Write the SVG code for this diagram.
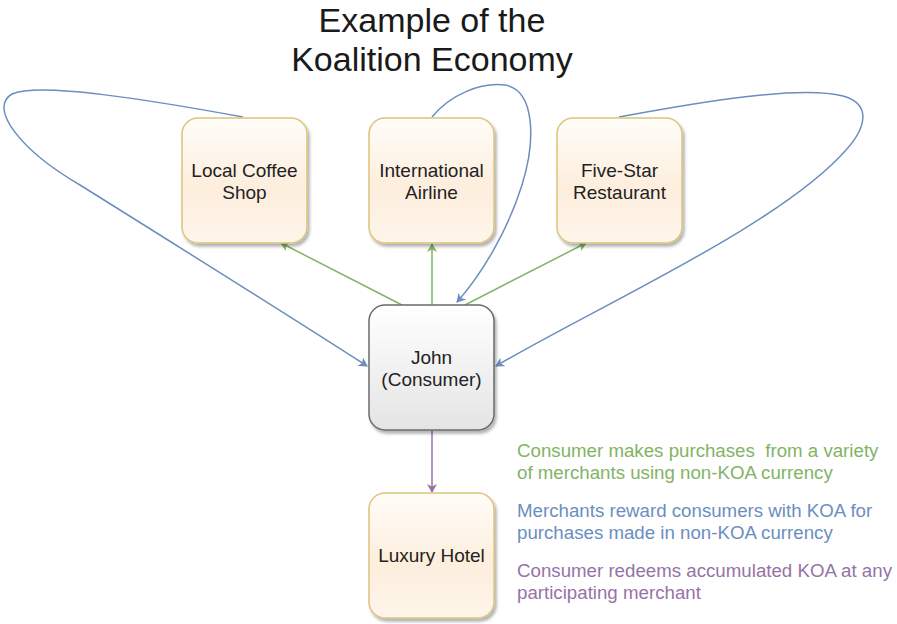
<svg xmlns="http://www.w3.org/2000/svg" width="897" height="624" viewBox="0 0 897 624">
<defs>
<style>
.t{font-family:"Liberation Sans",Arial,sans-serif;}
.node{font-size:19px;fill:#222;text-anchor:middle;}
.title{font-size:34px;fill:#1a1a1a;text-anchor:middle;}
.leg{font-size:18.7px;}
.peach{fill:url(#gPeach);stroke:#dcc47e;stroke-width:1.5;filter:url(#sh);}
.grey{fill:url(#gGrey);stroke:#6b6b6b;stroke-width:1.5;filter:url(#sh);}
.g{stroke:#82b366;stroke-width:1.5;fill:none;marker-end:url(#aG);}
.b{stroke:#6c8ebf;stroke-width:1.5;fill:none;marker-end:url(#aB);}
.p{stroke:#9673a6;stroke-width:1.5;fill:none;marker-end:url(#aP);}
</style>
<linearGradient id="gPeach" x1="0" y1="0" x2="0" y2="1">
<stop offset="0" stop-color="#fffdf9"/>
<stop offset="0.55" stop-color="#fdeedd"/>
<stop offset="1" stop-color="#fef5ea"/>
</linearGradient>
<linearGradient id="gGrey" x1="0" y1="0" x2="0" y2="1">
<stop offset="0" stop-color="#ffffff"/>
<stop offset="1" stop-color="#e4e4e4"/>
</linearGradient>
<filter id="sh" x="-10%" y="-10%" width="130%" height="130%">
<feDropShadow dx="2" dy="3" stdDeviation="1.5" flood-color="#000" flood-opacity="0.3"/>
</filter>
<marker id="aG" markerWidth="10" markerHeight="10" refX="8" refY="5" orient="auto" markerUnits="userSpaceOnUse">
<path d="M0,0 L9,5 L0,10 L2.5,5 Z" fill="#82b366"/>
</marker>
<marker id="aB" markerWidth="10" markerHeight="10" refX="8" refY="5" orient="auto" markerUnits="userSpaceOnUse">
<path d="M0,0 L9,5 L0,10 L2.5,5 Z" fill="#6c8ebf"/>
</marker>
<marker id="aP" markerWidth="10" markerHeight="10" refX="8" refY="5" orient="auto" markerUnits="userSpaceOnUse">
<path d="M0,0 L9,5 L0,10 L2.5,5 Z" fill="#9673a6"/>
</marker>
</defs>
<rect width="897" height="624" fill="#ffffff"/>
<g id="title">
<text class="t title" x="432" y="32">Example of the</text>
<text class="t title" x="432" y="71">Koalition Economy</text>
</g>
<g id="connectors">
<path class="g" d="M 402 305 L 281 243"/>
<path class="g" d="M 432 305 L 432 244"/>
<path class="g" d="M 465 305 L 586 243"/>
<path class="b" d="M 243 117 C 150 100, 40 82, 12 94 C -12 108, 20 150, 80 185 C 160 235, 280 310, 367 366"/>
<path class="b" d="M 432 117 C 450 95, 480 82, 505 85 C 535 90, 536 140, 522 185 C 508 230, 482 274, 457 302"/>
<path class="b" d="M 619 117 C 700 102, 800 85, 843 96 C 872 104, 866 128, 846 150 C 780 225, 600 305, 496 366"/>
<path class="p" d="M 432 431 L 432 492"/>
</g>
<g id="coffee">
<rect class="peach" x="182" y="118" width="125" height="125" rx="16"/>
<text class="t node" x="244.5" y="177">Local Coffee</text>
<text class="t node" x="244.5" y="199">Shop</text>
</g>
<g id="airline">
<rect class="peach" x="369" y="118" width="125" height="125" rx="16"/>
<text class="t node" x="431.5" y="177">International</text>
<text class="t node" x="431.5" y="199">Airline</text>
</g>
<g id="restaurant">
<rect class="peach" x="557" y="118" width="125" height="125" rx="16"/>
<text class="t node" x="619.5" y="177">Five-Star</text>
<text class="t node" x="619.5" y="199">Restaurant</text>
</g>
<g id="john">
<rect class="grey" x="369" y="305" width="125" height="125" rx="16"/>
<text class="t node" x="431.5" y="364">John</text>
<text class="t node" x="431.5" y="386">(Consumer)</text>
</g>
<g id="hotel">
<rect class="peach" x="369" y="493" width="125" height="125" rx="16"/>
<text class="t node" x="431.5" y="562">Luxury Hotel</text>
</g>
<g id="legend" class="t leg">
<text x="517" y="457" fill="#82b366" xml:space="preserve">Consumer makes purchases  from a variety</text>
<text x="517" y="479" fill="#82b366">of merchants using non-KOA currency</text>
<text x="517" y="517" fill="#6c8ebf">Merchants reward consumers with KOA for</text>
<text x="517" y="539" fill="#6c8ebf">purchases made in non-KOA currency</text>
<text x="517" y="577" fill="#9673a6">Consumer redeems accumulated KOA at any</text>
<text x="517" y="599" fill="#9673a6">participating merchant</text>
</g>
</svg>
